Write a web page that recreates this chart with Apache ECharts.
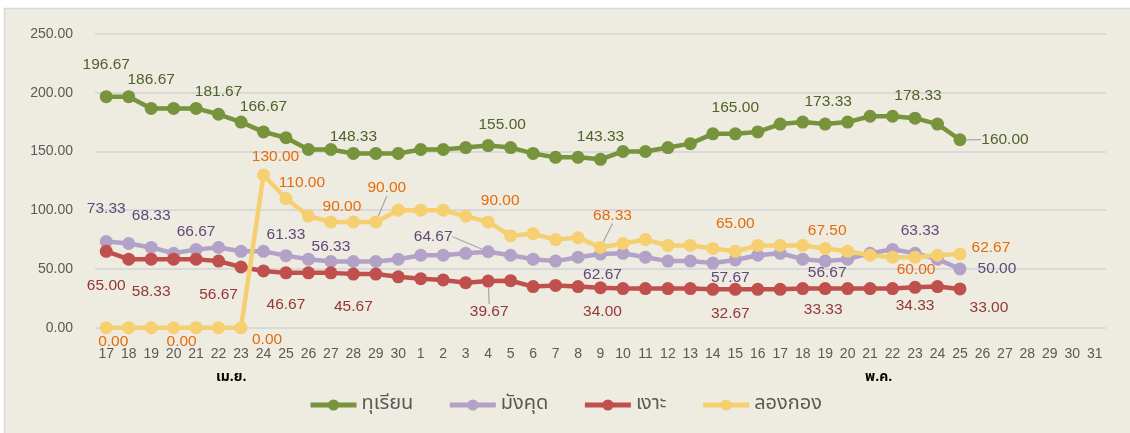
<!DOCTYPE html>
<html>
<head>
    <meta charset="utf-8">
    <title>ราคาผลไม้</title>
    <script src="https://cdn.jsdelivr.net/npm/echarts@6/dist/echarts.min.js"></script>
    <style>
        html, body { margin: 0; padding: 0; background: #ffffff; }
        #chart { width: 1130px; height: 433px; }
    </style>
</head>
<body>
    <div id="chart"></div>
    <script type="text/javascript">
        // วันที่ (17-30 เม.ย., 1-31 พ.ค.)
        var days = ['17','18','19','20','21','22','23','24','25','26','27','28','29','30',
            '1','2','3','4','5','6','7','8','9','10','11','12','13','14','15','16',
            '17','18','19','20','21','22','23','24','25','26','27','28','29','30','31'];

        var names = ['ทุเรียน', 'มังคุด', 'เงาะ', 'ลองกอง'];

        var durian = [196.67,196.67,186.67,186.67,186.67,181.67,175.00,166.67,161.67,151.67,151.67,148.33,148.33,
            148.33,151.67,151.67,153.33,155.00,153.33,148.33,145.00,145.00,143.33,150.00,150.00,153.33,156.67,165.00,165.00,
            166.67,173.33,175.00,173.33,175.00,180.00,180.00,178.33,173.33,160.00];
        var mangosteen = [73.33,71.67,68.33,63.33,66.67,68.33,65.00,65.00,61.33,58.33,56.33,56.33,56.33,
            58.33,61.67,61.67,63.33,64.67,61.67,58.33,56.67,60.00,62.67,63.33,60.00,56.67,56.67,55.00,57.67,
            61.67,63.33,58.33,56.67,58.33,63.33,66.67,63.33,58.33,50.00];
        var rambutan = [65.00,58.33,58.33,58.33,58.33,56.67,51.67,48.33,46.67,46.67,46.67,45.67,45.67,
            43.33,41.67,40.67,38.33,39.67,40.00,35.00,36.00,35.00,34.00,33.33,33.33,33.33,33.33,32.67,32.67,
            32.67,32.67,33.33,33.33,33.33,33.33,33.33,34.33,35.00,33.00];
        var longkong = [0,0,0,0,0,0,0,130.00,110.00,95.00,90.00,90.00,90.00,
            100.00,100.00,100.00,95.00,90.00,78.33,80.00,75.00,76.67,68.33,71.67,75.00,70.00,70.00,67.50,65.00,
            70.00,70.00,70.00,67.50,65.00,61.67,60.00,60.00,61.67,62.67];

        var lineColors = ['#77933C', '#B3A2C7', '#C0504D', '#F5CF70'];
        var labelColors = ['#4F6228', '#5F497A', '#953735', '#E46C0A'];

        // ตำแหน่งป้ายค่า: index -> [dx, dy, เส้นชี้]
        var labelSpots = [
            {0:[0,-32],2:[0,-29],5:[0,-23],7:[0,-25],11:[0,-17],17:[14,-21],22:[0,-23],28:[0,-26],32:[3,-22],36:[3,-22],38:[45,0,1]},
            {0:[0,-33],2:[0,-32],4:[0,-18],8:[0,-21],10:[0,-15],17:[-55,-15,1],22:[2,21],28:[-5,18],32:[2,12],36:[5,-23],38:[37,0]},
            {0:[0,34],2:[0,33],5:[0,34],8:[0,32],11:[0,33],17:[1,31,1],22:[2,24],28:[-5,24],32:[-2,21],36:[0,18],38:[29,19]},
            {0:[7,14],3:[8,14],6:[26,12],7:[12,-18],8:[16,-16],10:[11,-15],12:[11,-34,1],17:[12,-21],22:[12,-32,1],28:[0,-28],32:[2,-18],36:[1,13],38:[31,-6]}
        ];

        var thaiFont = "'Noto Sans Thai', Tahoma, 'DejaVu Sans', sans-serif";
        var numFont = "'Liberation Sans', Arial, sans-serif";

        function buildData(values, k) {
            return values.map(function (v, i) {
                var spot = labelSpots[k][i];
                if (!spot) return v;
                return {
                    value: v,
                    label: { show: true },
                    labelLine: { show: !!spot[2] }
                };
            });
        }

        var seriesValues = [durian, mangosteen, rambutan, longkong];
        var series = seriesValues.map(function (vals, k) {
            return {
                name: names[k],
                type: 'line',
                data: buildData(vals, k),
                symbol: 'circle',
                symbolSize: 13,
                color: lineColors[k],
                lineStyle: { width: 4.5, color: lineColors[k] },
                itemStyle: { color: lineColors[k] },
                z: k === 3 ? 3 : 2,
                label: {
                    show: false,
                    position: 'inside',
                    color: labelColors[k],
                    fontFamily: numFont,
                    fontSize: 15.5,
                    formatter: function (p) { return Number(p.value).toFixed(2); }
                },
                labelLine: {
                    show: false,
                    lineStyle: { color: '#A6A6A6', width: 1.2 }
                },
                labelLayout: function (p) {
                    var s = labelSpots[p.seriesIndex][p.dataIndex];
                    return s ? { dx: s[0], dy: s[1] } : {};
                },
                emphasis: { disabled: true }
            };
        });

        var chart = echarts.init(document.getElementById('chart'));

        var option = {
            backgroundColor: '#ffffff',
            animation: false,
            grid: { left: 95, right: 24, top: 34, bottom: 105.3 },
            legend: {
                data: names,
                top: 390,
                left: 'center',
                itemWidth: 46,
                itemHeight: 14,
                itemGap: 34,
                lineStyle: { width: 5 },
                textStyle: { fontFamily: thaiFont, fontSize: 20, color: '#595959' }
            },
            xAxis: {
                type: 'category',
                data: days,
                boundaryGap: true,
                axisLine: { show: false },
                axisTick: { show: false },
                axisLabel: {
                    interval: 0,
                    margin: 19,
                    color: '#595959',
                    fontFamily: numFont,
                    fontSize: 14
                }
            },
            yAxis: {
                type: 'value',
                min: 0,
                max: 250,
                interval: 50,
                axisLine: { show: false },
                axisTick: { show: false },
                axisLabel: {
                    margin: 22,
                    color: '#595959',
                    fontFamily: numFont,
                    fontSize: 14,
                    formatter: function (v) { return v.toFixed(2); }
                },
                splitLine: { lineStyle: { color: '#D9D9D9', width: 2 } }
            },
            graphic: [
                {
                    type: 'rect',
                    z: -10,
                    silent: true,
                    shape: { x: 4.5, y: 8.5, width: 1140, height: 440 },
                    style: { fill: '#EEEBE1', stroke: '#D9D9D9', lineWidth: 1.5 }
                },
                {
                    type: 'text',
                    left: 216, top: 371,
                    style: { text: 'เม.ย.', font: 'bold 14px ' + thaiFont, fill: '#000000' }
                },
                {
                    type: 'text',
                    left: 865, top: 371,
                    style: { text: 'พ.ค.', font: 'bold 14px ' + thaiFont, fill: '#000000' }
                }
            ],
            series: series
        };

        chart.setOption(option);
    </script>
</body>
</html>
